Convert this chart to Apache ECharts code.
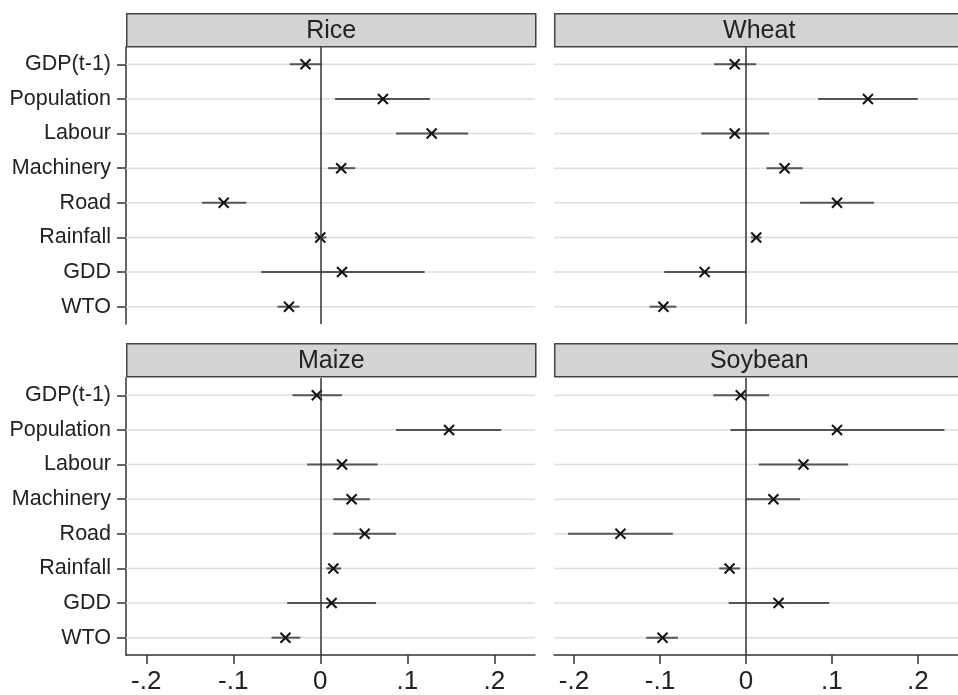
<!DOCTYPE html>
<html>
<head>
<meta charset="utf-8">
<script src="https://cdn.jsdelivr.net/npm/echarts@6/dist/echarts.min.js"></script>
<style>
html,body{margin:0;padding:0;background:#fff;}
#chart{width:958px;height:695px;}
</style>
</head>
<body>
<div id="chart"></div>
<script>
const categories = ['GDP(t-1)','Population','Labour','Machinery','Road','Rainfall','GDD','WTO'];
const panelTitles = ['Rice','Wheat','Maize','Soybean'];
const tickValues = [-0.2,-0.1,0,0.1,0.2];
const tickLabels = ['-.2','-.1','0','.1','.2'];

const riceEst = [-0.017, 0.072, 0.128, 0.024, -0.111, 0.000, 0.025, -0.036];
const riceLo  = [-0.035, 0.017, 0.087, 0.009, -0.136, -0.006, -0.068, -0.049];
const riceHi  = [0.002, 0.126, 0.170, 0.040, -0.085, 0.007, 0.120, -0.024];

const wheatEst = [-0.013, 0.142, -0.013, 0.045, 0.106, 0.012, -0.048, -0.096];
const wheatLo  = [-0.037, 0.084, -0.052, 0.024, 0.063, 0.006, -0.095, -0.112];
const wheatHi  = [0.012, 0.200, 0.027, 0.066, 0.149, 0.018, 0.000, -0.081];

const maizeEst = [-0.004, 0.148, 0.025, 0.036, 0.051, 0.015, 0.013, -0.040];
const maizeLo  = [-0.032, 0.087, -0.015, 0.015, 0.015, 0.007, -0.038, -0.056];
const maizeHi  = [0.025, 0.208, 0.066, 0.057, 0.087, 0.024, 0.064, -0.023];

const soyEst = [-0.006, 0.106, 0.067, 0.032, -0.146, -0.019, 0.038, -0.097];
const soyLo  = [-0.038, -0.018, 0.015, 0.000, -0.207, -0.031, -0.020, -0.116];
const soyHi  = [0.027, 0.231, 0.119, 0.063, -0.085, -0.007, 0.097, -0.079];

const panels = [
  {est: riceEst, lo: riceLo, hi: riceHi},
  {est: wheatEst, lo: wheatLo, hi: wheatHi},
  {est: maizeEst, lo: maizeLo, hi: maizeHi},
  {est: soyEst, lo: soyLo, hi: soyHi}
];

const FONT = 'Liberation Sans, Arial, sans-serif';
const lefts = [126, 554, 126, 554];
const tops = [47, 47, 378, 378];
const W = 409, H = 277;
const XMIN = -0.2233, XMAX = 0.2468;

const grids = [], xAxes = [], yAxes = [], series = [], graphics = [];
for (let i = 0; i < 4; i++) {
  const isBottom = i >= 2, isLeft = i % 2 === 0;
  grids.push({left: lefts[i], top: tops[i], width: W, height: H, containLabel: false});
  xAxes.push({
    type: 'value', gridIndex: i, min: XMIN, max: XMAX,
    splitLine: {show: false},
    axisLine: {show: isBottom, onZero: false, lineStyle: {color: '#333', width: 1.5}},
    axisTick: {show: isBottom, customValues: tickValues, length: 9, lineStyle: {color: '#333', width: 1.5}},
    axisLabel: {show: isBottom, customValues: tickValues, margin: 14, fontSize: 26, color: '#222', fontFamily: FONT,
      formatter: v => { const k = tickValues.findIndex(t => Math.abs(t - v) < 1e-9); return k >= 0 ? tickLabels[k] : ''; }}
  });
  yAxes.push({
    type: 'category', gridIndex: i, data: categories, inverse: true, position: 'left',
    axisLine: {show: isLeft, onZero: false, lineStyle: {color: '#333', width: 1.5}},
    axisTick: {show: isLeft, alignWithLabel: true, length: 9, lineStyle: {color: '#333', width: 1.5}},
    axisLabel: {show: isLeft, margin: 15, fontSize: 21.5, color: '#222', fontFamily: FONT},
    splitLine: {show: false}
  });
  // gridlines + zero line
  series.push({
    type: 'custom', xAxisIndex: i, yAxisIndex: i, z: 1, silent: true,
    data: categories.map((c, k) => [0, k]),
    encode: {x: 0, y: 1},
    renderItem: function (params, api) {
      const cs = params.coordSys;
      const y = api.coord([0, api.value(1)])[1];
      return {type: 'line', shape: {x1: cs.x, y1: y, x2: cs.x + cs.width, y2: y},
        style: {stroke: '#dedede', lineWidth: 1.5}};
    },
    markLine: {silent: true, symbol: 'none', label: {show: false},
      lineStyle: {color: '#333', width: 1.5, type: 'solid'}, data: [{xAxis: 0}]}
  });
  const p = panels[i];
  series.push({
    type: 'custom', xAxisIndex: i, yAxisIndex: i, z: 3, silent: true,
    data: categories.map((c, k) => [k, p.est[k], p.lo[k], p.hi[k]]),
    encode: {y: 0, x: [1, 2, 3]},
    renderItem: function (params, api) {
      const k = api.value(0);
      const a = api.coord([api.value(2), k]);
      const b = api.coord([api.value(3), k]);
      const e = api.coord([api.value(1), k]);
      const s = 5;
      return {type: 'group', children: [
        {type: 'line', shape: {x1: a[0], y1: a[1], x2: b[0], y2: b[1]}, style: {stroke: '#555', lineWidth: 2}},
        {type: 'line', shape: {x1: e[0] - s, y1: e[1] - s, x2: e[0] + s, y2: e[1] + s}, style: {stroke: '#111', lineWidth: 2}},
        {type: 'line', shape: {x1: e[0] - s, y1: e[1] + s, x2: e[0] + s, y2: e[1] - s}, style: {stroke: '#111', lineWidth: 2}}
      ]};
    }
  });
  // header strip
  const hy = isBottom ? 343 : 13;
  graphics.push({
    type: 'group', left: lefts[i], top: hy, silent: true,
    children: [
      {type: 'rect', shape: {x: 0, y: 0, width: W, height: 33}, style: {fill: '#d3d3d3', stroke: '#444', lineWidth: 1.5}},
      {type: 'text', x: W / 2, y: 17, style: {text: panelTitles[i], font: '25px ' + FONT, fill: '#222', textAlign: 'center', textVerticalAlign: 'middle'}}
    ]
  });
}

const chart = echarts.init(document.getElementById('chart'), null, {renderer: 'canvas'});
chart.setOption({
  backgroundColor: '#ffffff',
  animation: false,
  grid: grids, xAxis: xAxes, yAxis: yAxes, series: series, graphic: graphics
});
</script>
</body>
</html>
